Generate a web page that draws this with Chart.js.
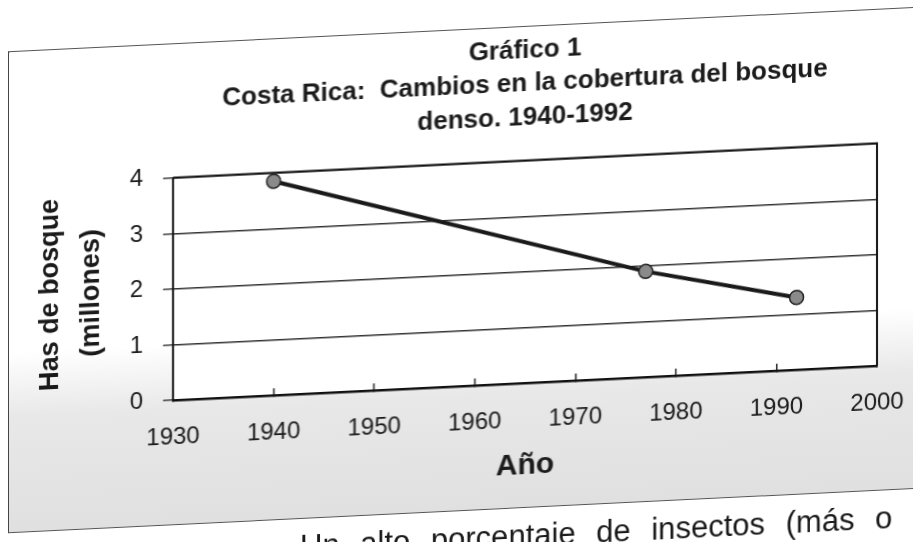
<!DOCTYPE html>
<html lang="es">
<head>
<meta charset="utf-8">
<title>Gráfico 1</title>
<script src="https://cdn.jsdelivr.net/npm/chart.js@4.4.1/dist/chart.umd.min.js"></script>
<style>
    html, body {
        margin: 0;
        padding: 0;
        width: 913px;
        height: 542px;
        overflow: hidden;
        background: #fff;
    }
    /* la hoja esta fotografiada un poco torcida */
    #hoja {
        position: absolute;
        left: 0;
        top: 0;
        width: 1100px;
        height: 600px;
        transform: skewY(-2.8deg);
        transform-origin: 525px 272px;
    }
    #marco {
        position: absolute;
        left: 8px;
        top: 26px;
        width: 1000px;
        height: 480px;
        border-left: 1.5px solid #444;
        border-top: 1.5px solid #555;
        border-bottom: 1.5px solid #555;
        background: linear-gradient(to bottom, #fff 0px, #fff 300px, #e8e8e8 365px, #e0e0e0 100%);
    }
    #graficoBosque {
        position: absolute;
        left: 0;
        top: 0;
    }
    #textoSiguiente {
        position: absolute;
        left: 300px;
        top: 520px;
        font-family: "Liberation Sans", Arial, sans-serif;
        font-size: 31px;
        line-height: 31px;
        word-spacing: 12px;
        color: #1a1a1a;
        white-space: nowrap;
    }
</style>
</head>
<body>
<div id="hoja">
    <div id="marco"></div>
    <canvas id="graficoBosque" width="1020" height="542"></canvas>
    <div id="textoSiguiente">Un alto porcentaje de insectos (más o</div>
</div>

<script>
// Datos del grafico
const anios = [1940, 1977, 1992];
const hectareas = [3.85, 1.9, 1.3]; // millones de ha

// Marcas de los ejes
const marcasAnio = [1930, 1940, 1950, 1960, 1970, 1980, 1990, 2000];
const marcasHectareas = [0, 1, 2, 3, 4];

const titulo = ['Gráfico 1', 'Costa Rica:  Cambios en la cobertura del bosque', 'denso. 1940-1992'];
const tituloEjeY = ['Has de bosque', '(millones)'];
const tituloEjeX = 'Año';

const fuente = '"Liberation Sans", Arial, sans-serif';
const negro = '#1a1a1a';

// fondo blanco del area de trazado y borde derecho
const areaBlanca = {
    id: 'areaBlanca',
    beforeDraw(chart) {
        const a = chart.chartArea;
        const ctx = chart.ctx;
        ctx.save();
        ctx.fillStyle = '#fff';
        ctx.fillRect(a.left, a.top, a.right - a.left, a.bottom - a.top);
        ctx.restore();
    },
    afterDraw(chart) {
        const a = chart.chartArea;
        const ctx = chart.ctx;
        ctx.save();
        ctx.strokeStyle = '#111';
        ctx.lineWidth = 2;
        ctx.beginPath();
        ctx.moveTo(a.left, a.top);
        ctx.lineTo(a.right, a.top);
        ctx.lineTo(a.right, a.bottom);
        ctx.stroke();
        ctx.restore();
    }
};

let grafico;

document.addEventListener('DOMContentLoaded', function () {
    let ctx = document.getElementById('graficoBosque').getContext('2d');

    let puntos = anios.map((a, i) => ({ x: a, y: hectareas[i] }));

    grafico = new Chart(ctx, {
        type: 'line',
        data: {
            datasets: [{
                label: 'Has de bosque',
                data: puntos,
                borderColor: negro,
                borderWidth: 4,
                fill: false,
                tension: 0,
                pointRadius: 7,
                pointHoverRadius: 7,
                pointBackgroundColor: '#8a8a8a',
                pointBorderColor: '#222',
                pointBorderWidth: 1.5
            }]
        },
        options: {
            responsive: false,
            animation: false,
            layout: {
                padding: { top: 34, left: 0, right: 143, bottom: 58 }
            },
            plugins: {
                legend: { display: false },
                tooltip: { enabled: false },
                title: {
                    display: true,
                    fullSize: false,
                    text: titulo,
                    color: negro,
                    font: { family: fuente, size: 26, weight: 'bold', lineHeight: 1.29 },
                    padding: { top: 0, bottom: 26 }
                }
            },
            scales: {
                x: {
                    type: 'linear',
                    min: 1930,
                    max: 2000,
                    afterBuildTicks: (eje) => { eje.ticks = marcasAnio.map(v => ({ value: v })); },
                    afterFit: (eje) => { eje.height = 101; },
                    ticks: {
                        color: negro,
                        font: { family: fuente, size: 24 },
                        padding: 30,
                        maxRotation: 0,
                        format: { useGrouping: false }
                    },
                    grid: {
                        drawOnChartArea: false,
                        drawTicks: true,
                        tickLength: -7,
                        color: '#222',
                        lineWidth: 1.5
                    },
                    border: { color: '#111', width: 2.5 },
                    title: {
                        display: true,
                        text: tituloEjeX,
                        color: negro,
                        font: { family: fuente, size: 30, weight: 'bold', lineHeight: 1.2 },
                        padding: 0
                    }
                },
                y: {
                    min: 0,
                    max: 4,
                    afterBuildTicks: (eje) => { eje.ticks = marcasHectareas.map(v => ({ value: v })); },
                    afterFit: (eje) => { eje.width = 173; },
                    ticks: {
                        color: negro,
                        font: { family: fuente, size: 24 },
                        padding: 20
                    },
                    grid: {
                        color: '#333',
                        lineWidth: 1.4,
                        tickLength: 10
                    },
                    border: { color: '#111', width: 2 },
                    title: {
                        display: true,
                        text: tituloEjeY,
                        color: negro,
                        font: { family: fuente, size: 27, weight: 'bold', lineHeight: 1.52 },
                        padding: { top: 30, bottom: 0 }
                    }
                }
            }
        },
        plugins: [areaBlanca]
    });
});
</script>
</body>
</html>
